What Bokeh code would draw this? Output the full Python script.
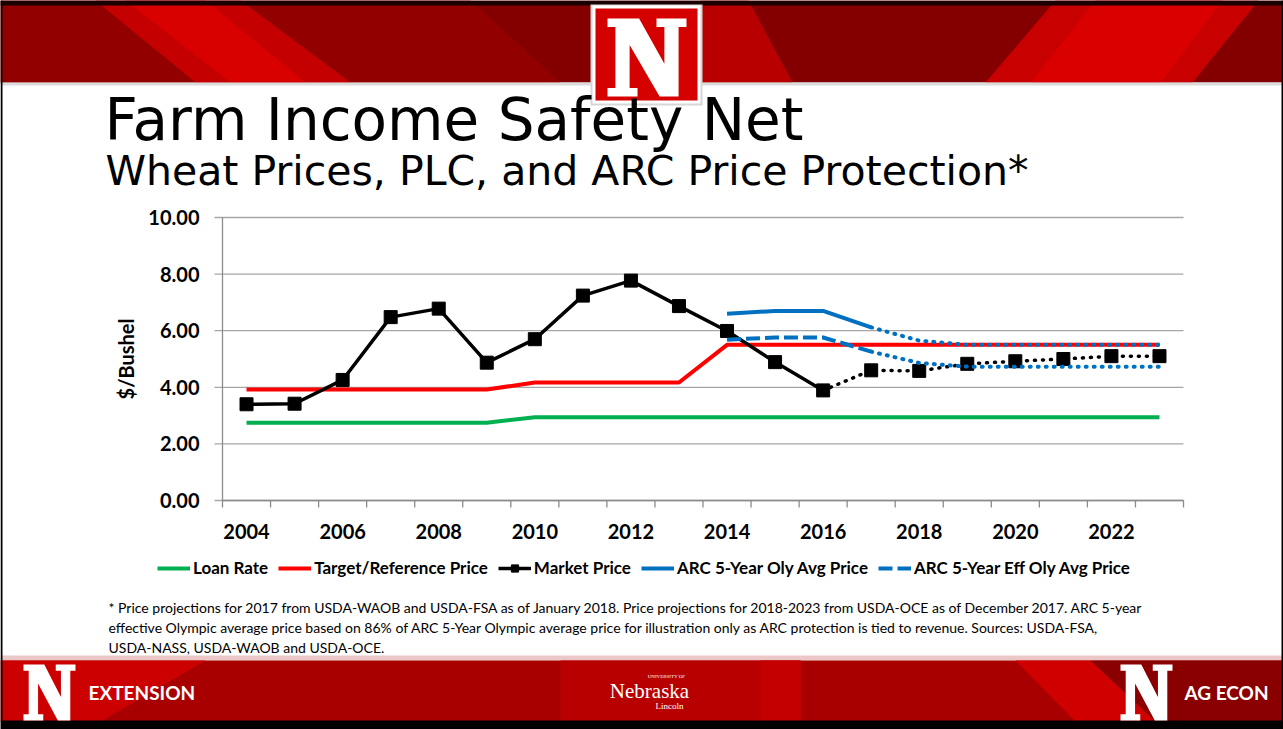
import math
from bokeh.plotting import figure
from bokeh.models import Range1d, Legend, LegendItem, ColumnDataSource
from bokeh.core.properties import value
from bokeh.embed import file_html
from bokeh.resources import INLINE

# ---------------- data ----------------
years = [2004, 2005, 2006, 2007, 2008, 2009, 2010, 2011, 2012, 2013,
         2014, 2015, 2016, 2017, 2018, 2019, 2020, 2021, 2022, 2023]
loan_rate = [2.75, 2.75, 2.75, 2.75, 2.75, 2.75, 2.94, 2.94, 2.94, 2.94,
             2.94, 2.94, 2.94, 2.94, 2.94, 2.94, 2.94, 2.94, 2.94, 2.94]
target_price = [3.92, 3.92, 3.92, 3.92, 3.92, 3.92, 4.17, 4.17, 4.17, 4.17,
                5.50, 5.50, 5.50, 5.50, 5.50, 5.50, 5.50, 5.50, 5.50, 5.50]
market_price = [3.40, 3.42, 4.26, 6.48, 6.78, 4.87, 5.70, 7.24, 7.77, 6.87,
                5.99, 4.89, 3.89, 4.60, 4.58, 4.83, 4.92, 5.00, 5.10, 5.10]
arc_years = [2014, 2015, 2016, 2017, 2018, 2019, 2020, 2021, 2022, 2023]
arc_oly = [6.60, 6.70, 6.70, 6.12, 5.65, 5.50, 5.50, 5.50, 5.50, 5.50]
arc_eff = [5.68, 5.76, 5.76, 5.26, 4.86, 4.73, 4.73, 4.73, 4.73, 4.73]
last_actual_market = 2016
last_solid_arc = 2017
y_ticks = [0, 2, 4, 6, 8, 10]
y_tick_labels = ["0.00", "2.00", "4.00", "6.00", "8.00", "10.00"]
x_tick_years = [2004, 2006, 2008, 2010, 2012, 2014, 2016, 2018, 2020, 2022]
x_tick_labels = ["2004", "2006", "2008", "2010", "2012", "2014", "2016",
                 "2018", "2020", "2022"]
series_names = ["Loan Rate", "Target/Reference Price", "Market Price",
                "ARC 5-Year Oly Avg Price", "ARC 5-Year Eff Oly Avg Price"]

title = "Farm Income Safety Net"
subtitle = "Wheat Prices, PLC, and ARC Price Protection*"
y_label = "$/Bushel"
footnote = [
    "* Price projections for 2017 from USDA-WAOB and USDA-FSA as of January 2018. Price projections for 2018-2023 from USDA-OCE as of December 2017. ARC 5-year",
    "effective Olympic average price based on 86% of ARC 5-Year Olympic average price for illustration only as ARC protection is tied to revenue. Sources: USDA-FSA,",
    "USDA-NASS, USDA-WAOB and USDA-OCE.",
]

# ---------------- layout (pixels) ----------------
W, H = 1283, 729
PLOT_L, PLOT_R, PLOT_T, PLOT_B = 222, 1183, 217, 500

x_lo, x_hi = years[0] - 0.5, years[-1] + 0.5
y_lo, y_hi = y_ticks[0], y_ticks[-1]
kx = (PLOT_R - PLOT_L) / (x_hi - x_lo)
ky = (PLOT_B - PLOT_T) / (y_hi - y_lo)

p = figure(width=W, height=H, output_backend="svg", toolbar_location=None,
           x_range=Range1d(x_lo - PLOT_L / kx, x_hi + (W - PLOT_R) / kx),
           y_range=Range1d(y_lo - (H - PLOT_B) / ky, y_hi + PLOT_T / ky),
           x_axis_location=None, y_axis_location=None,
           min_border=0, min_border_left=0, min_border_right=0,
           min_border_top=0, min_border_bottom=0)
p.outline_line_color = None
p.background_fill_color = "white"
p.border_fill_color = "white"
p.xgrid.grid_line_color = None
p.ygrid.grid_line_color = None
# pixel coordinate system for slide decorations
p.extra_x_ranges = {"px": Range1d(0, W)}
p.extra_y_ranges = {"py": Range1d(H, 0)}
PX = dict(x_range_name="px", y_range_name="py")

TICK_FONT = "Lato"
AX = "#8c8c8c"


def rect(x0, y0, x1, y1, color):
    p.quad(left=[x0], right=[x1], top=[y0], bottom=[y1], fill_color=color,
           line_color=None, **PX)


def poly(pts, color):
    p.patch([x for x, _ in pts], [y for _, y in pts], fill_color=color,
            line_color=None, **PX)


def text(x, y, s, size, font, color="black", style="normal", align="left",
         baseline="middle"):
    p.text(x=[x], y=[y], text=[s], text_font=value(font),
           text_font_size=value(f"{size}px"), text_font_style=style,
           text_color=color, text_align=align, text_baseline=baseline, **PX)


N_PTS = [(0, 0), (0.40, 0), (0.72, 0.58), (0.72, 0.11), (0.62, 0.11), (0.62, 0),
         (1, 0), (1, 0.11), (0.90, 0.11), (0.90, 1), (0.66, 1), (0.28, 0.34),
         (0.28, 0.89), (0.38, 0.89), (0.38, 1), (0, 1), (0, 0.89), (0.10, 0.89),
         (0.10, 0.11), (0, 0.11)]


def n_logo(x0, y0, w, h, color="white"):
    poly([(x0 + fx * w, y0 + fy * h) for fx, fy in N_PTS], color)


# ---------------- header ----------------
rect(0, 0, W, 82, "#840000")
poly([(0, 0), (470, 0), (560, 82), (0, 82)], "#930000")
poly([(95, 0), (240, 0), (350, 82), (195, 82)], "#c40000")
poly([(125, 0), (205, 0), (305, 82), (230, 82)], "#d90000")
poly([(700, 0), (748, 0), (792, 82), (700, 82)], "#b80000")
poly([(1055, 0), (1258, 0), (1192, 82), (985, 82)], "#c80000")
poly([(1095, 0), (1222, 0), (1160, 82), (1030, 82)], "#db0000")
rect(0, 0, W, 5, "#1a0000")
rect(0, 82, W, 85, "#dcdcdc")
rect(590, 4, 702, 105, "#d6d6d6")
rect(592, 5, 700, 103, "#ffffff")
rect(595, 8, 697, 100, "#d50000")
n_logo(607, 18, 79, 78)
text(104, 119, title, 58, "DejaVu Sans", baseline="alphabetic")
text(105, 170, subtitle, 41, "DejaVu Sans", baseline="alphabetic")

# ---------------- footer ----------------
for i, line in enumerate(footnote):
    text(108, 607 + 20 * i, line, 14, "Lato")
rect(0, 655, W, 660, "#ecc7c7")
rect(0, 660, W, 721, "#a80000")
poly([(0, 660), (205, 660), (100, 721), (0, 721)], "#cc0000")
poly([(560, 660), (800, 660), (800, 721), (560, 721)], "#b80000")
poly([(760, 660), (800, 660), (800, 721), (760, 721)], "#c40000")
poly([(1015, 660), (1090, 660), (1155, 721), (1075, 721)], "#d00000")
poly([(1090, 660), (W, 660), (W, 721), (1155, 721)], "#8a0000")
rect(0, 720, W, H, "#000000")
rect(0, 0, 2, H, "#000000")
rect(W - 2, 0, W, H, "#000000")
n_logo(23, 664, 52, 56)
text(88, 692, "EXTENSION", 19, "Lato", color="white", style="bold")
n_logo(1120, 664, 52, 56)
text(1184, 692, "AG ECON", 19, "Lato", color="white", style="bold")
text(666, 676, "UNIVERSITY OF", 5, "Liberation Serif", color="white", align="center")
text(649, 690, "Nebraska", 21, "Liberation Serif", color="white", align="center")
text(669, 705, "Lincoln", 9, "Liberation Serif", color="white", align="center")

# ---------------- chart axes (drawn on the data scales) ----------------
p.segment(x0=[x_lo - 8 / kx] * len(y_ticks), y0=y_ticks,
          x1=[x_hi] * len(y_ticks), y1=y_ticks,
          line_color="#a6a6a6", line_width=1.3)
boundaries = [y - 0.5 for y in years] + [years[-1] + 0.5]
p.segment(x0=boundaries, y0=[y_lo] * len(boundaries), x1=boundaries,
          y1=[y_lo - 7 / ky] * len(boundaries), line_color=AX, line_width=1.3)
p.segment(x0=[x_lo, x_lo], y0=[y_lo, y_lo], x1=[x_hi, x_lo], y1=[y_lo, y_hi],
          line_color=AX, line_width=1.3)
p.text(x=[x_lo] * len(y_ticks), y=y_ticks, text=y_tick_labels, x_offset=-23,
       text_align="right", text_baseline="middle", text_font=value(TICK_FONT),
       text_font_style="bold", text_font_size=value("20px"), text_color="black")
p.text(x=x_tick_years, y=[y_lo] * len(x_tick_years), text=x_tick_labels,
       y_offset=31, text_align="center", text_baseline="middle",
       text_font=value(TICK_FONT), text_font_style="bold",
       text_font_size=value("20px"), text_color="black")
p.text(x=[x_lo], y=[(y_lo + y_hi) / 2], text=[y_label], x_offset=-97,
       angle=math.pi / 2, text_align="center", text_baseline="middle",
       text_font=value(TICK_FONT), text_font_style="bold",
       text_font_size=value("20px"), text_color="black")

# ---------------- series ----------------
src = ColumnDataSource(dict(year=years, loan=loan_rate, target=target_price,
                            market=market_price))
act_idx = [i for i, y in enumerate(years) if y <= last_actual_market]
proj_idx = [i for i, y in enumerate(years) if y >= last_actual_market]
m_act = ColumnDataSource(dict(year=[years[i] for i in act_idx],
                              v=[market_price[i] for i in act_idx]))
m_proj = ColumnDataSource(dict(year=[years[i] for i in proj_idx],
                               v=[market_price[i] for i in proj_idx]))
sol_idx = [i for i, y in enumerate(arc_years) if y <= last_solid_arc]
dot_idx = [i for i, y in enumerate(arc_years) if y >= last_solid_arc]
a_sol = ColumnDataSource(dict(year=[arc_years[i] for i in sol_idx],
                              oly=[arc_oly[i] for i in sol_idx],
                              eff=[arc_eff[i] for i in sol_idx]))
a_dot = ColumnDataSource(dict(year=[arc_years[i] for i in dot_idx],
                              oly=[arc_oly[i] for i in dot_idx],
                              eff=[arc_eff[i] for i in dot_idx]))

GREEN, RED, BLACK, BLUE = "#00b050", "#ff0000", "#000000", "#0070c0"

r_loan = p.line("year", "loan", source=src, line_color=GREEN, line_width=4)
r_target = p.line("year", "target", source=src, line_color=RED, line_width=4)
r_mkt = p.line("year", "v", source=m_act, line_color=BLACK, line_width=3.5)
p.line("year", "v", source=m_proj, line_color=BLACK, line_width=3.5,
       line_dash="1 7", line_cap="round")
r_mkt_pts = p.scatter("year", "market", source=src, marker="square", size=13,
                      fill_color=BLACK, line_color=BLACK)
r_oly = p.line("year", "oly", source=a_sol, line_color=BLUE, line_width=4)
p.line("year", "oly", source=a_dot, line_color=BLUE, line_width=4,
       line_dash="1 7", line_cap="round")
r_eff = p.line("year", "eff", source=a_sol, line_color=BLUE, line_width=4,
               line_dash="14 5")
p.line("year", "eff", source=a_dot, line_color=BLUE, line_width=4,
       line_dash="1 7", line_cap="round")

legend = Legend(items=[
    LegendItem(label=series_names[0], renderers=[r_loan]),
    LegendItem(label=series_names[1], renderers=[r_target]),
    LegendItem(label=series_names[2], renderers=[r_mkt, r_mkt_pts]),
    LegendItem(label=series_names[3], renderers=[r_oly]),
    LegendItem(label=series_names[4], renderers=[r_eff]),
], orientation="horizontal", location=(153, H - 582), glyph_width=33,
    glyph_height=18, label_standoff=3, spacing=10, padding=4, margin=0,
    label_text_font="Lato", label_text_font_style="bold",
    label_text_font_size="17px", label_text_color="black",
    border_line_alpha=0, background_fill_alpha=0)
p.add_layout(legend)

open("out.html", "w").write(file_html(p, INLINE))
